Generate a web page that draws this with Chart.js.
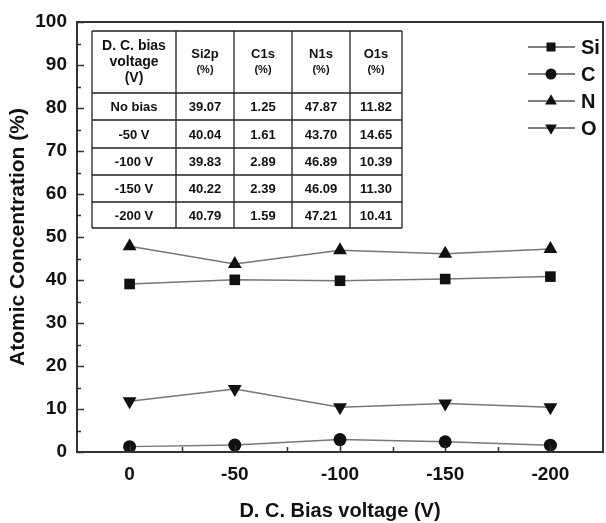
<!DOCTYPE html>
<html>
<head>
<meta charset="utf-8">
<script src="https://cdn.jsdelivr.net/npm/chart.js@4/dist/chart.umd.min.js"></script>
<style>
  html, body { margin: 0; padding: 0; background: #fff; }
  #wrap { position: relative; width: 606px; height: 523px; }
</style>
</head>
<body>
<div id="wrap"><canvas id="conc" width="606" height="523"></canvas></div>
<script>
// bias voltage (V) on x
const biasVoltage = [0, -50, -100, -150, -200];
const tableLabels = ['No bias', '-50 V', '-100 V', '-150 V', '-200 V'];
const si = [39.07, 40.04, 39.83, 40.22, 40.79];
const c = [1.25, 1.61, 2.89, 2.39, 1.59];
const n = [47.87, 43.70, 46.89, 46.09, 47.21];
const o = [11.82, 14.65, 10.39, 11.30, 10.41];

const FONT = '"Liberation Sans", Arial, sans-serif';
const INK = '#111';

const sizes = { rect: 7.5, circle: 6.5, triangle: 8 };

function series(label, vals, style, rot) {
  return {
    label: label,
    data: biasVoltage.map((x, i) => ({ x: x, y: vals[i] })),
    borderColor: '#777',
    borderWidth: 1.5,
    backgroundColor: INK,
    pointBackgroundColor: INK,
    pointBorderColor: INK,
    pointBorderWidth: 0,
    pointStyle: style,
    pointRotation: rot || 0,
    pointRadius: sizes[style],
    showLine: true,
    tension: 0
  };
}

// inward ticks, frame, legend and inset table
const decor = {
  id: 'decor',
  afterDatasetsDraw(chart) {
    const ctx = chart.ctx;
    const a = chart.chartArea;
    const xs = chart.scales.x, ys = chart.scales.y;
    ctx.save();
    ctx.strokeStyle = '#333';
    ctx.lineWidth = 1.5;
    ctx.beginPath();
    for (let v = 0; v <= 100; v += 5) {
      const y = Math.round(ys.getPixelForValue(v)) + 0.5;
      const len = v % 10 === 0 ? 7 : 4;
      ctx.moveTo(a.left, y); ctx.lineTo(a.left + len, y);
    }
    for (let v = 0; v >= -200; v -= 25) {
      const x = Math.round(xs.getPixelForValue(v)) + 0.5;
      const len = v % 50 === 0 ? 7 : 5;
      ctx.moveTo(x, a.bottom); ctx.lineTo(x, a.bottom - len);
    }
    ctx.stroke();
    ctx.lineWidth = 2;
    ctx.strokeRect(a.left, a.top, a.right - a.left, a.bottom - a.top);

    // legend
    ctx.font = 'bold 20px ' + FONT;
    ctx.textBaseline = 'middle';
    ctx.textAlign = 'left';
    chart.data.datasets.forEach((ds, i) => {
      const y = 47 + i * 27;
      ctx.strokeStyle = '#555';
      ctx.lineWidth = 1.5;
      ctx.beginPath();
      ctx.moveTo(528, y); ctx.lineTo(575, y);
      ctx.stroke();
      ctx.fillStyle = INK;
      Chart.helpers.drawPoint(ctx, {
        pointStyle: ds.pointStyle,
        rotation: ds.pointRotation,
        radius: ds.pointRadius * 0.85,
        borderWidth: 0
      }, 551, y);
      ctx.fillText(ds.label, 581, y + 1);
    });

    // inset table
    const cols = [92, 176, 234, 292, 350, 402];
    const rows = [31, 93, 120, 148, 175, 202, 228];
    ctx.fillStyle = '#fff';
    ctx.fillRect(cols[0], rows[0], cols[5] - cols[0], rows[6] - rows[0]);
    ctx.strokeStyle = '#222';
    ctx.lineWidth = 1.3;
    ctx.beginPath();
    cols.forEach(x => { ctx.moveTo(x, rows[0]); ctx.lineTo(x, rows[6]); });
    rows.forEach(y => { ctx.moveTo(cols[0], y); ctx.lineTo(cols[5], y); });
    ctx.stroke();
    ctx.fillStyle = INK;
    ctx.textAlign = 'center';
    const head = [['D. C. bias', 'voltage', '(V)'], ['Si2p', '(%)'], ['C1s', '(%)'], ['N1s', '(%)'], ['O1s', '(%)']];
    head.forEach((lines, j) => {
      const cx = (cols[j] + cols[j + 1]) / 2;
      const cy = (rows[0] + rows[1]) / 2;
      const lh = j === 0 ? 16 : 15;
      lines.forEach((t, k) => {
        const fs = (j > 0 && k === 1) ? 'bold 11px ' : (j === 0 ? 'bold 14px ' : 'bold 13px ');
        ctx.font = fs + FONT;
        ctx.fillText(t, cx, cy + (k - (lines.length - 1) / 2) * lh);
      });
    });
    ctx.font = 'bold 13px ' + FONT;
    const cells = [tableLabels, si, c, n, o];
    for (let r = 0; r < 5; r++) {
      const cy = (rows[r + 1] + rows[r + 2]) / 2 + 1;
      cells.forEach((col, j) => {
        const v = col[r];
        const t = typeof v === 'number' ? v.toFixed(2) : v;
        ctx.fillText(t, (cols[j] + cols[j + 1]) / 2, cy);
      });
    }
    ctx.restore();
  }
};

new Chart(document.getElementById('conc'), {
  type: 'scatter',
  data: {
    datasets: [
      series('Si', si, 'rect'),
      series('C', c, 'circle'),
      series('N', n, 'triangle'),
      series('O', o, 'triangle', 180)
    ]
  },
  options: {
    responsive: false,
    animation: false,
    layout: { autoPadding: false, padding: { top: 22, right: 3, left: 0, bottom: 0 } },
    plugins: { legend: { display: false }, tooltip: { enabled: false } },
    scales: {
      x: {
        type: 'linear',
        reverse: true,
        min: -225,
        max: 25,
        grid: { display: false, drawTicks: false },
        border: { display: false },
        afterBuildTicks: (s) => { s.ticks = biasVoltage.map(v => ({ value: v })); },
        afterFit: (s) => { s.height = 71; s.paddingLeft = 0; s.paddingRight = 0; },
        ticks: {
          padding: 11,
          color: INK,
          font: { family: FONT, size: 19, weight: 'bold' },
          callback: (v) => String(v)
        },
        title: {
          display: true,
          text: 'D. C. Bias voltage (V)',
          color: INK,
          font: { family: FONT, size: 20, weight: 'bold' },
          padding: { top: 14, bottom: 0 }
        }
      },
      y: {
        min: 0,
        max: 100,
        grid: { display: false, drawTicks: false },
        border: { display: false },
        afterFit: (s) => { s.width = 77; s.paddingTop = 0; s.paddingBottom = 0; },
        ticks: {
          stepSize: 10,
          padding: 10,
          color: INK,
          font: { family: FONT, size: 19, weight: 'bold' }
        },
        title: {
          display: true,
          text: 'Atomic Concentration (%)',
          color: INK,
          font: { family: FONT, size: 21, weight: 'bold' },
          padding: { top: 6, bottom: 0 }
        }
      }
    }
  },
  plugins: [decor]
});
</script>
</body>
</html>
